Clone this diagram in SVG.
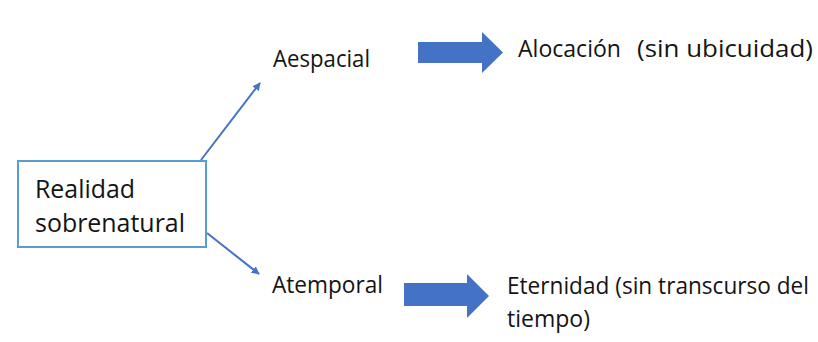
<svg xmlns="http://www.w3.org/2000/svg" width="818" height="342" viewBox="0 0 818 342">
<style>
.t{font-family:"Open Sans","Liberation Sans",sans-serif;font-size:23px;fill:#141414}
.r{font-size:25px}
.ln{stroke:#4472C4;stroke-width:2;fill:none}
.big{fill:#4472C4}
</style>
<defs>
<marker id="ah" viewBox="0 0 10 10" refX="9" refY="5" markerWidth="4" markerHeight="4" orient="auto" markerUnits="strokeWidth">
<path d="M0,0 L10,5 L0,10 z" fill="#4472C4"/>
</marker>
</defs>
<rect width="818" height="342" fill="#ffffff"/>
<g id="connectors">
<line class="ln" x1="201" y1="160" x2="260" y2="83" marker-end="url(#ah)"/>
<line class="ln" x1="207" y1="233" x2="259" y2="274" marker-end="url(#ah)"/>
<path id="arrow1" class="big" d="M418,42 H482 V32 L503,52.5 L482,73 V63 H418 Z"/>
<path id="arrow2" class="big" d="M404,283 H467 V274 L489,296 L467,318 V306 H404 Z"/>
</g>
<g id="realidad">
<rect x="18" y="161" width="188" height="86" fill="#ffffff" stroke="#5B9BD5" stroke-width="2"/>
<text class="t r" x="35" y="198" textLength="100" lengthAdjust="spacingAndGlyphs">Realidad</text>
<text class="t r" x="35" y="232" textLength="150" lengthAdjust="spacingAndGlyphs">sobrenatural</text>
</g>
<g id="aespacial">
<text class="t" x="273" y="67" textLength="97" lengthAdjust="spacingAndGlyphs">Aespacial</text>
</g>
<g id="atemporal">
<text class="t" x="272" y="293" textLength="111" lengthAdjust="spacingAndGlyphs">Atemporal</text>
</g>
<g id="alocacion">
<text class="t" x="518" y="57" textLength="103" lengthAdjust="spacingAndGlyphs">Alocación</text>
<text class="t" x="637" y="57" textLength="176" lengthAdjust="spacingAndGlyphs">(sin ubicuidad)</text>
</g>
<g id="eternidad">
<text class="t" x="507" y="294" textLength="302" lengthAdjust="spacingAndGlyphs">Eternidad (sin transcurso del</text>
<text class="t" x="507" y="327" textLength="83" lengthAdjust="spacingAndGlyphs">tiempo)</text>
</g>
</svg>
